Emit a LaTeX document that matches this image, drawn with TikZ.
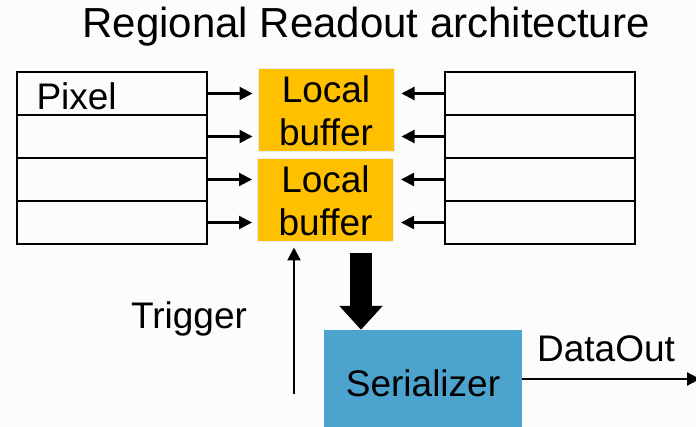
\documentclass[tikz,border=0pt]{standalone}
\usepackage{fontspec}
\setmainfont{Liberation Sans}
\usetikzlibrary{arrows.meta,positioning}
\definecolor{bufferorange}{HTML}{FFC000}
\definecolor{serblue}{HTML}{4BA3CE}
\definecolor{pagewhite}{HTML}{FCFCFC}
\tikzset{
  big/.style={font=\fontsize{37}{43}\selectfont},
  pixelrow/.style={draw,line width=2.5pt,minimum width=190pt,minimum height=43pt,inner sep=0pt},
  bufbox/.style={big,fill=bufferorange,draw=black!8,line width=1pt,minimum width=136pt,minimum height=83pt,align=center,inner sep=0pt},
  feed/.style={line width=2.2pt,-{Triangle[length=13pt,width=13pt]}}
}
\begin{document}
\begin{tikzpicture}[x=1pt,y=-1pt]
\useasboundingbox (0,0) rectangle (696,427);
\clip (0,0) rectangle (696,427);
\fill[pagewhite] (0,0) rectangle (696,427);
\node[font=\fontsize{42}{50}\selectfont] (title) at (366,27) {Regional Readout architecture};
\foreach \i in {0,...,3}{
  \node[pixelrow] (L\i) at (112,93.5+43*\i) {};
  \node[pixelrow] (R\i) at (540,93.5+43*\i) {};
}
\node[big,anchor=west] (pixel) at (33,96) {Pixel};
\node[bufbox] (buf1) at (326,110.5) {Local\\buffer};
\node[bufbox] (buf2) at (325.5,200.5) {Local\\buffer};
\foreach \i/\b in {0/buf1,1/buf1,2/buf2,3/buf2}{
  \draw[feed,shorten >=5pt] (L\i.east) -- (L\i.east -| \b.west);
  \draw[feed,shorten >=7pt] (R\i.west) -- (R\i.west -| \b.east);
}
\node[big,fill=serblue,minimum width=198pt,minimum height=106pt,inner sep=0pt] (ser) at (423,383) {Serializer};
\coordinate (trig) at (294,394);
\draw[feed,shorten >=5pt] (trig) -- (trig |- buf2.south);
\node[big] (triglabel) at (189,319) {Trigger};
\coordinate (bigtop) at (361,253);
\draw[line width=22pt,-{Triangle[length=24pt,width=42pt]}] (bigtop) -- (bigtop |- ser.north);
\coordinate (dout) at (700,379);
\draw[feed] (ser.east |- dout) -- (dout);
\node[big] (doutlabel) at (606,349) {DataOut};
\end{tikzpicture}
\end{document}
